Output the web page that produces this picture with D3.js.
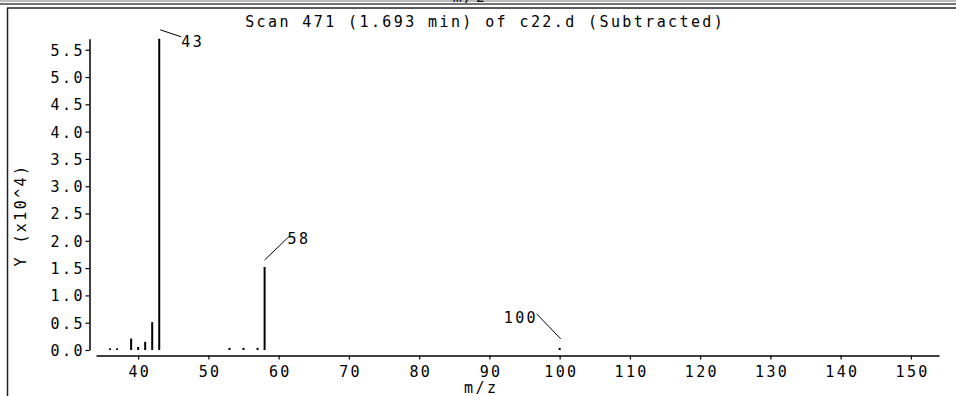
<!DOCTYPE html>
<html>
<head>
<meta charset="utf-8">
<script src="https://cdn.jsdelivr.net/npm/d3@7"></script>
<style>
  html, body { margin: 0; padding: 0; background: #fff; }
  svg { display: block; }
  text { font-family: "DejaVu Sans Mono", monospace; fill: #000; }
</style>
</head>
<body>
<svg id="chart" width="956" height="396"></svg>
<script>
// ---- data ----
const mzValues   = [36, 37, 39, 40, 41, 42, 43, 53, 55, 57, 58, 100];
const abundances = [300, 300, 2100, 550, 1500, 5100, 57000, 400, 400, 400, 15200, 400];
const labeledPeaks = [43, 58, 100];
const xTickValues = [40, 50, 60, 70, 80, 90, 100, 110, 120, 130, 140, 150];
const yTickValues = [0, 0.5, 1.0, 1.5, 2.0, 2.5, 3.0, 3.5, 4.0, 4.5, 5.0, 5.5];
const titleText = "Scan 471 (1.693 min) of c22.d (Subtracted)";
const xLabelText = "m/z";
const yLabelText = "Y (x10^4)";

// ---- layout ----
const svg = d3.select("#chart");
const fontSize = 15, letterSp = 2.4;

const x = d3.scaleLinear().domain([34, 154]).range([96, 939]);
const y = d3.scaleLinear().domain([0, 5.7]).range([350, 38.8]);

// frame
svg.append("rect").attr("x", 0).attr("y", 0).attr("width", 956).attr("height", 2).attr("fill", "#bbb");
svg.append("line").attr("x1", 0).attr("x2", 956).attr("y1", 4).attr("y2", 4).attr("stroke", "#444").attr("stroke-width", 1.5);
svg.append("line").attr("x1", 7).attr("x2", 956).attr("y1", 8).attr("y2", 8).attr("stroke", "#222").attr("stroke-width", 1.5);
svg.append("line").attr("x1", 7.5).attr("x2", 7.5).attr("y1", 8).attr("y2", 396).attr("stroke", "#222").attr("stroke-width", 1.5);
// remnant of previous panel's axis label, mostly hidden above the frame
svg.append("text").attr("x", 470).attr("y", 2).attr("text-anchor", "middle")
  .style("font-size", fontSize + "px").style("letter-spacing", letterSp + "px").text(xLabelText);

// title
svg.append("text").attr("x", 484 + letterSp / 2).attr("y", 27).attr("text-anchor", "middle")
  .style("font-size", fontSize + "px").style("letter-spacing", letterSp + "px").text(titleText);

// y axis
const yAxis = d3.axisLeft(y).tickValues(yTickValues).tickFormat(d3.format(".1f")).tickSize(4).tickSizeOuter(0);
const gy = svg.append("g").attr("transform", "translate(89.5,0)").call(yAxis);
gy.select(".domain").attr("stroke", "#000").attr("stroke-width", 1.5);
gy.selectAll(".tick line").attr("stroke", "#000").attr("stroke-width", 1.2);
gy.selectAll(".tick text").attr("x", -7 + letterSp).attr("dy", "0.36em")
  .style("font-size", fontSize + "px").style("letter-spacing", letterSp + "px").style("font-family", "DejaVu Sans Mono");

// x axis
const xAxis = d3.axisBottom(x).tickValues(xTickValues).tickFormat(d3.format("d")).tickSize(4).tickSizeOuter(0);
const gx = svg.append("g").attr("transform", "translate(0,355.5)").call(xAxis);
gx.select(".domain").attr("stroke", "#000").attr("stroke-width", 1.5);
gx.selectAll(".tick line").attr("stroke", "#000").attr("stroke-width", 1.2);
gx.selectAll(".tick text").attr("y", 11).attr("dx", letterSp / 2)
  .style("font-size", fontSize + "px").style("letter-spacing", letterSp + "px").style("font-family", "DejaVu Sans Mono");

// axis labels
svg.append("text").attr("x", 480 + letterSp / 2).attr("y", 393).attr("text-anchor", "middle")
  .style("font-size", fontSize + "px").style("letter-spacing", letterSp + "px").text(xLabelText);
svg.append("text").attr("transform", "translate(26,215) rotate(-90)").attr("text-anchor", "middle")
  .style("font-size", fontSize + "px").style("letter-spacing", letterSp + "px").text(yLabelText);

// peaks
const peaks = mzValues.map((m, i) => ({ mz: m, v: abundances[i] / 1e4 }));
svg.append("g").selectAll("line").data(peaks).join("line")
  .attr("x1", d => x(d.mz)).attr("x2", d => x(d.mz))
  .attr("y1", y(0)).attr("y2", d => y(d.v))
  .attr("stroke", "#000").attr("stroke-width", 2);

// peak labels with leader lines (style: direction of leader)
const labelStyle = {
  43:  { dir: "upLeft" },
  58:  { dir: "upRight" },
  100: { dir: "left" }
};
labeledPeaks.forEach(m => {
  const p = peaks.find(d => d.mz === m);
  const px = x(p.mz), py = y(p.v);
  const st = labelStyle[m].dir;
  let line, tx, ty, anchor;
  if (st === "upLeft") {
    line = [px + 1, py - 9, px + 22, py - 2];
    tx = px + 22; ty = py + 8; anchor = "start";
  } else if (st === "upRight") {
    line = [px, py - 7, px + 25, py - 31];
    tx = px + 23; ty = py - 23; anchor = "start";
  } else {
    line = [px + 1, py - 9, px - 23, py - 34];
    tx = px - 24; ty = py - 25; anchor = "end";
  }
  svg.append("line").attr("x1", line[0]).attr("y1", line[1]).attr("x2", line[2]).attr("y2", line[3])
    .attr("stroke", "#000").attr("stroke-width", 1);
  svg.append("text").attr("x", anchor === "end" ? tx + letterSp : tx).attr("y", ty).attr("text-anchor", anchor)
    .style("font-size", fontSize + "px").style("letter-spacing", letterSp + "px").text(String(m));
});
</script>
</body>
</html>
